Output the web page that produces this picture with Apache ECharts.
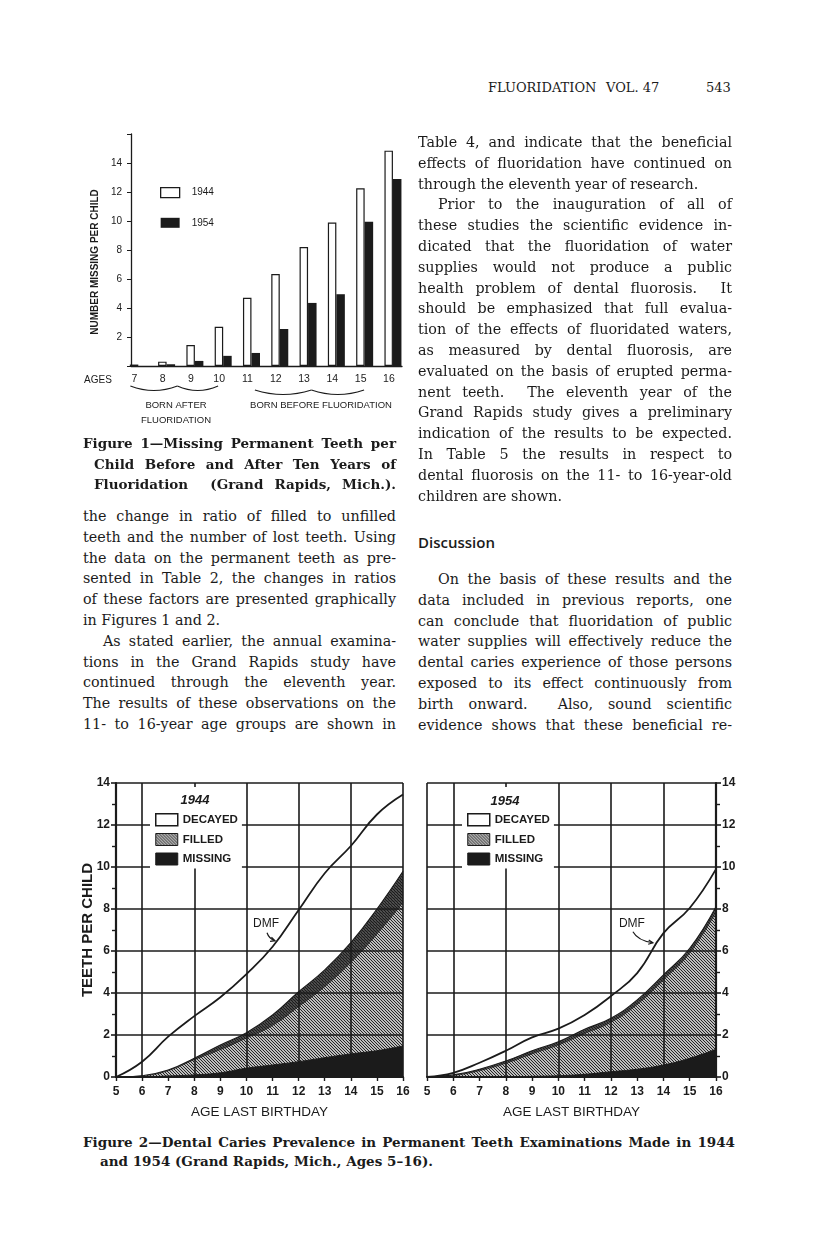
<!DOCTYPE html>
<html>
<head>
<meta charset="utf-8">
<title>Fluoridation Vol. 47, p. 543</title>
<script src="https://cdn.jsdelivr.net/npm/echarts/dist/echarts.min.js"></script>
<style>
html,body{margin:0;padding:0;background:#fff;}
#page{position:relative;width:816px;height:1247px;overflow:hidden;background:#fff;color:#1b1b1b;}
.ln{position:absolute;white-space:pre;font-family:'DejaVu Serif',serif;font-size:14.3px;line-height:20px;height:20px;z-index:2;}
.cap{font-weight:bold;font-size:13.5px;}
.hd{position:absolute;font-family:'DejaVu Serif',serif;font-size:13px;line-height:20px;white-space:pre;z-index:2;}
.sec{position:absolute;font-family:'Open Sans',sans-serif;font-weight:600;font-size:15px;line-height:20px;z-index:2;white-space:pre;}
#fig1{position:absolute;left:0;top:100px;width:420px;height:335px;z-index:1;}
#fig2{position:absolute;left:0;top:760px;width:816px;height:370px;z-index:1;}
</style>
</head>
<body>
<div id="page">
  <div id="fig1"></div>
  <div id="fig2"></div>
</div>
<script>
// ---------------- data ----------------
// Figure 1: missing permanent teeth per child
const ages1 = [7, 8, 9, 10, 11, 12, 13, 14, 15, 16];
const missing1944 = [0.1, 0.3, 1.45, 2.7, 4.7, 6.35, 8.2, 9.9, 12.25, 14.85];
const missing1954 = [0, 0.12, 0.35, 0.7, 0.9, 2.55, 4.35, 4.95, 9.95, 12.9];

// Figure 2: cumulative curves, teeth per child by age last birthday
const ages2 = [5, 6, 7, 8, 9, 10, 11, 12, 13, 14, 15, 16];
const dmf1944 = [0, 0.73, 1.92, 2.9, 3.8, 4.9, 6.2, 7.95, 9.7, 11.0, 12.5, 13.45];
const filledTop1944 = [0, 0.06, 0.33, 0.89, 1.52, 2.11, 2.95, 4.06, 5.1, 6.4, 8.0, 9.8];
const filledInner1944 = [0, 0.05, 0.3, 0.82, 1.3, 1.85, 2.45, 3.35, 4.3, 5.45, 6.8, 8.3];
const missingCum1944 = [0, 0, 0.05, 0.1, 0.2, 0.42, 0.57, 0.73, 0.92, 1.1, 1.25, 1.48];

const dmf1954 = [0, 0.2, 0.68, 1.25, 1.89, 2.3, 2.95, 3.85, 4.95, 6.85, 8.05, 9.9];
const filledTop1954 = [0, 0.1, 0.37, 0.76, 1.25, 1.68, 2.27, 2.8, 3.67, 4.86, 6.13, 8.11];
const filledInner1954 = [0, 0.07, 0.3, 0.65, 1.1, 1.52, 2.07, 2.6, 3.45, 4.62, 5.9, 7.85];
const missingCum1954 = [0, 0, 0, 0.01, 0.03, 0.06, 0.13, 0.25, 0.37, 0.57, 0.89, 1.32];

const vGridAges = [5, 6, 8, 10, 12, 14, 16];
const legendNames2 = ['DECAYED', 'FILLED', 'MISSING'];

// ---------------- page text ----------------
const page = document.getElementById('page');
function addLine(text, x, cy, w, justify, cls) {
  const d = document.createElement('div');
  d.className = 'ln' + (cls ? ' ' + cls : '');
  d.style.left = x + 'px';
  d.style.top = (cy - 11) + 'px';
  const s = document.createElement('span');
  s.textContent = text;
  d.appendChild(s);
  page.appendChild(d);
  if (justify) {
    const nat = s.getBoundingClientRect().width;
    const n = (text.match(/ /g) || []).length;
    if (n > 0) s.style.wordSpacing = ((w - nat) / n) + 'px';
  }
}
function addBlock(lines, x, w, y0, lh, indent) {
  lines.forEach((l, i) => {
    const ind = l[1] ? indent : 0;
    addLine(l[0], x + ind, y0 + i * lh, w - ind, l[2]);
  });
}
function addSpan(cls, text, x, cy) {
  const d = document.createElement('div');
  d.className = cls; d.textContent = text;
  d.style.left = x + 'px'; d.style.top = (cy - 11) + 'px';
  page.appendChild(d);
}

addSpan('hd', 'FLUORIDATION', 488, 89);
addSpan('hd', 'VOL. 47', 606, 89);
addSpan('hd', '543', 706, 89);

const leftLines = [
  ['the change in ratio of filled to unfilled', 0, 1],
  ['teeth and the number of lost teeth. Using', 0, 1],
  ['the data on the permanent teeth as pre-', 0, 1],
  ['sented in Table 2, the changes in ratios', 0, 1],
  ['of these factors are presented graphically', 0, 1],
  ['in Figures 1 and 2.', 0, 0],
  ['As stated earlier, the annual examina-', 1, 1],
  ['tions in the Grand Rapids study have', 0, 1],
  ['continued through the eleventh year.', 0, 1],
  ['The results of these observations on the', 0, 1],
  ['11- to 16-year age groups are shown in', 0, 1]
];
addBlock(leftLines, 83, 313, 517, 20.8, 20);

const rightLines = [
  ['Table 4, and indicate that the beneficial', 0, 1],
  ['effects of fluoridation have continued on', 0, 1],
  ['through the eleventh year of research.', 0, 0],
  ['Prior to the inauguration of all of', 1, 1],
  ['these studies the scientific evidence in-', 0, 1],
  ['dicated that the fluoridation of water', 0, 1],
  ['supplies would not produce a public', 0, 1],
  ['health problem of dental fluorosis.  It', 0, 1],
  ['should be emphasized that full evalua-', 0, 1],
  ['tion of the effects of fluoridated waters,', 0, 1],
  ['as measured by dental fluorosis, are', 0, 1],
  ['evaluated on the basis of erupted perma-', 0, 1],
  ['nent teeth.  The eleventh year of the', 0, 1],
  ['Grand Rapids study gives a preliminary', 0, 1],
  ['indication of the results to be expected.', 0, 1],
  ['In Table 5 the results in respect to', 0, 1],
  ['dental fluorosis on the 11- to 16-year-old', 0, 1],
  ['children are shown.', 0, 0]
];
addBlock(rightLines, 418, 314, 143, 20.8, 20);
addSpan('sec', 'Discussion', 418, 543);
const rightLines2 = [
  ['On the basis of these results and the', 1, 1],
  ['data included in previous reports, one', 0, 1],
  ['can conclude that fluoridation of public', 0, 1],
  ['water supplies will effectively reduce the', 0, 1],
  ['dental caries experience of those persons', 0, 1],
  ['exposed to its effect continuously from', 0, 1],
  ['birth onward.  Also, sound scientific', 0, 1],
  ['evidence shows that these beneficial re-', 0, 1]
];
addBlock(rightLines2, 418, 314, 580, 20.8, 20);

// captions
addLine('Figure 1\u2014Missing Permanent Teeth per', 83, 444, 313, 1, 'cap');
addLine('Child Before and After Ten Years of', 94, 464.5, 302, 1, 'cap');
addLine('Fluoridation  (Grand Rapids, Mich.).', 94, 485, 302, 1, 'cap');
addLine('Figure 2\u2014Dental Caries Prevalence in Permanent Teeth Examinations Made in 1944', 83, 1143, 652, 1, 'cap');
addLine('and 1954 (Grand Rapids, Mich., Ages 5\u201316).', 100, 1162, 400, 0, 'cap');

// ---------------- charts ----------------
const INK = '#1b1b1b';
const SANS = "'Liberation Sans', Arial, sans-serif";

function txt(x, y, text, font, extra) {
  return Object.assign({
    type: 'text', x: x, y: y, z: 100, silent: true,
    style: { text: text, fill: INK, font: font, textAlign: 'center', textVerticalAlign: 'middle', align: 'center', verticalAlign: 'middle' }
  }, extra || {});
}
function curve(x1, y1, cx, cy, x2, y2, w) {
  return { type: 'bezierCurve', z: 100, silent: true,
    shape: { x1: x1, y1: y1, cpx1: cx, cpy1: cy, x2: x2, y2: y2 },
    style: { fill: 'none', stroke: INK, lineWidth: w } };
}
function arcBrace(x1, xm, x2, y, d) {
  return [curve(x1, y, (x1 + xm) / 2, y + d, xm, y, 1.1), curve(xm, y, (xm + x2) / 2, y + d, x2, y, 1.1)];
}

// ---- Figure 1 ----
const chart1 = echarts.init(document.getElementById('fig1'));
chart1.setOption({
  animation: false,
  textStyle: { fontFamily: SANS, color: INK },
  grid: { left: 131, top: 34, width: 271, height: 232 },
  xAxis: {
    type: 'value', min: 6.742, max: 16.32,
    axisLine: { show: true, onZero: false, lineStyle: { color: INK, width: 1.3 } },
    axisTick: { show: false }, splitLine: { show: false },
    axisLabel: { customValues: ages1, color: INK, fontSize: 10.5, margin: 8, padding: [0, 8, 0, 0] }
  },
  yAxis: {
    type: 'value', min: 0, max: 16, interval: 2,
    axisLine: { show: true, lineStyle: { color: INK, width: 1.3 } },
    axisTick: { show: true, length: 4, lineStyle: { color: INK, width: 1 } },
    splitLine: { show: false },
    axisLabel: { color: INK, fontSize: 10, margin: 9, formatter: v => (v > 0 && v < 16) ? String(v) : '' }
  },
  legend: {
    left: 160, top: 87, orient: 'vertical', padding: 0, icon: 'rect',
    itemWidth: 19, itemHeight: 10, itemGap: 19.5, selectedMode: false,
    textStyle: { fontFamily: SANS, fontSize: 10, color: INK, padding: [0, 0, 0, 7] },
    data: [
      { name: '1944', itemStyle: { color: '#fff', borderColor: INK, borderWidth: 1.3 } },
      { name: '1954', itemStyle: { color: INK } }
    ]
  },
  series: [
    { name: '1944', type: 'bar', data: ages1.map((a, i) => [a, missing1944[i]]), barWidth: 8.5, barGap: '0%',
      itemStyle: { color: '#fff', borderColor: INK, borderWidth: 1.2 }, silent: true },
    { name: '1954', type: 'bar', data: ages1.map((a, i) => [a, missing1954[i]]), barWidth: 8.5, barGap: '0%',
      itemStyle: { color: INK }, silent: true }
  ]
});

const px1 = a => chart1.convertToPixel({ xAxisIndex: 0 }, a);
chart1.setOption({
  graphic: [txt(98, 280, 'AGES', "10px " + SANS)]
    .concat(arcBrace(px1(6.72), px1(8.38), px1(9.82), 286, 9))
    .concat(arcBrace(px1(11.12), px1(13.12), px1(14.98), 290, 9))
    .concat([
      txt(176, 305, 'BORN AFTER', "9.5px " + SANS),
      txt(176, 320, 'FLUORIDATION', "9.5px " + SANS),
      txt(321, 305, 'BORN BEFORE FLUORIDATION', "9.5px " + SANS),
      txt(95, 162, 'NUMBER MISSING PER CHILD', "bold 10px " + SANS, { rotation: Math.PI / 2 })
    ])
});

// ---- Figure 2 ----
function hatch(size, lw) {
  const c = document.createElement('canvas');
  c.width = size; c.height = size;
  const g = c.getContext('2d');
  g.fillStyle = '#fff'; g.fillRect(0, 0, size, size);
  g.strokeStyle = INK; g.lineWidth = lw; g.lineCap = 'square';
  g.beginPath();
  g.moveTo(-1, -1); g.lineTo(size + 1, size + 1);
  g.moveTo(-1, size - 1); g.lineTo(1, size + 1);
  g.moveTo(size - 1, -1); g.lineTo(size + 1, 1);
  g.stroke();
  return c;
}
const hatchLight = { image: hatch(3, 1.1), repeat: 'repeat' };
const hatchDense = { image: hatch(3, 1.9), repeat: 'repeat' };

function yAxisDef(gridIndex, pos) {
  return {
    type: 'value', gridIndex: gridIndex, position: pos, min: 0, max: 14, interval: 2, z: 8,
    axisLine: { show: true, lineStyle: { color: INK, width: 2.2 } },
    axisTick: { show: true, length: 5, lineStyle: { color: INK, width: 1.6 } },
    minorTick: { show: true, splitNumber: 2, length: 4, lineStyle: { color: INK, width: 1.4 } },
    splitLine: { show: true, lineStyle: { color: INK, width: 1.6 } },
    axisLabel: { color: INK, fontFamily: SANS, fontWeight: 'bold', fontSize: 12, margin: 6 }
  };
}
function xAxisDef(gridIndex) {
  return {
    type: 'value', gridIndex: gridIndex, min: 5, max: 16, interval: 1, z: 8,
    axisLine: { show: true, onZero: false, lineStyle: { color: INK, width: 2.2 } },
    axisTick: { show: true, length: 4, lineStyle: { color: INK, width: 1.4 } },
    splitLine: { show: false },
    axisLabel: { color: INK, fontFamily: SANS, fontWeight: 'bold', fontSize: 12, margin: 9 },
    name: 'AGE LAST BIRTHDAY', nameLocation: 'middle', nameGap: 28,
    nameTextStyle: { color: INK, fontFamily: SANS, fontSize: 13.5 }
  };
}
function panelSeries(p, dmf, top, inner, miss) {
  const pts = arr => ages2.map((a, i) => [a, arr[i]]);
  const base = { type: 'line', xAxisIndex: p, yAxisIndex: p, symbol: 'none', showSymbol: false, smooth: 0.45, silent: true };
  return [
    Object.assign({}, base, { name: 'DECAYED', data: pts(dmf), z: 2, lineStyle: { color: INK, width: 1.8 }, itemStyle: { color: INK } }),
    Object.assign({}, base, { name: 'FILLED band', data: pts(top), z: 3, lineStyle: { color: INK, width: 1.1 }, itemStyle: { color: INK },
      areaStyle: { color: hatchDense, opacity: 1 } }),
    Object.assign({}, base, { name: 'FILLED', data: pts(inner), z: 4, lineStyle: { color: INK, width: 0.6 }, itemStyle: { color: INK },
      areaStyle: { color: hatchLight, opacity: 1 } }),
    Object.assign({}, base, { name: 'MISSING', data: pts(miss), z: 5, lineStyle: { color: INK, width: 1 }, itemStyle: { color: INK },
      areaStyle: { color: INK, opacity: 1 } }),
    { type: 'line', name: 'grid' + p, xAxisIndex: p, yAxisIndex: p, data: [], z: 8, silent: true,
      markLine: { silent: true, animation: false, symbol: ['none', 'none'], label: { show: false },
        lineStyle: { color: INK, width: 1.6, type: 'solid' },
        data: vGridAges.map(v => ({ xAxis: v })) } }
  ];
}
function legendDef(left) {
  const styles = {
    DECAYED: { color: '#fff', borderColor: INK, borderWidth: 1.5 },
    FILLED: { color: hatchLight, borderColor: INK, borderWidth: 1 },
    MISSING: { color: INK, borderColor: INK, borderWidth: 1 }
  };
  return {
    left: left, top: 27, orient: 'vertical', padding: [26, 4, 3, 5], backgroundColor: '#fff',
    itemWidth: 22, itemHeight: 12, itemGap: 6.5, icon: 'rect', z: 20, selectedMode: false,
    textStyle: { fontFamily: SANS, fontWeight: 'bold', fontSize: 11.5, color: INK },
    data: legendNames2.map(n => ({ name: n, itemStyle: styles[n] }))
  };
}

const chart2 = echarts.init(document.getElementById('fig2'));
chart2.setOption({
  animation: false,
  textStyle: { fontFamily: SANS, color: INK },
  grid: [
    { left: 116, top: 23, width: 287, height: 294 },
    { left: 427, top: 23, width: 289, height: 294 }
  ],
  xAxis: [xAxisDef(0), xAxisDef(1)],
  yAxis: [yAxisDef(0, 'left'), yAxisDef(1, 'right')],
  legend: [legendDef(150), legendDef(462)],
  series: panelSeries(0, dmf1944, filledTop1944, filledInner1944, missingCum1944)
    .concat(panelSeries(1, dmf1954, filledTop1954, filledInner1954, missingCum1954))
});

function dmfNote(gridIndex, at, path) {
  const p = chart2.convertToPixel({ gridIndex: gridIndex }, at);
  const x = p[0], y = p[1];
  const s = path.map(q => [x + q[0], y + q[1]]);
  const end = s[2], c = s[1];
  const ang = Math.atan2(end[1] - c[1], end[0] - c[0]);
  const h = 5;
  const a1 = [end[0] - h * Math.cos(ang - 0.45), end[1] - h * Math.sin(ang - 0.45)];
  const a2 = [end[0] - h * Math.cos(ang + 0.45), end[1] - h * Math.sin(ang + 0.45)];
  return [
    txt(x, y, 'DMF', "12px " + SANS),
    curve(s[0][0], s[0][1], c[0], c[1], end[0], end[1], 1.2),
    { type: 'polyline', z: 100, silent: true, shape: { points: [a1, end, a2] },
      style: { fill: 'none', stroke: INK, lineWidth: 1.2 } }
  ];
}
chart2.setOption({
  graphic: [
    txt(88, 170, 'TEETH PER CHILD', "bold 15px " + SANS, { rotation: Math.PI / 2 }),
    txt(195, 40, '1944', "italic bold 13px " + SANS),
    txt(505, 41, '1954', "italic bold 13px " + SANS)
  ].concat(dmfNote(0, [10.75, 7.3], [[1, 9], [3, 15], [9, 17]]))
   .concat(dmfNote(1, [12.8, 7.3], [[1, 8], [6, 17], [21, 19]]))
});
</script>
</body>
</html>
